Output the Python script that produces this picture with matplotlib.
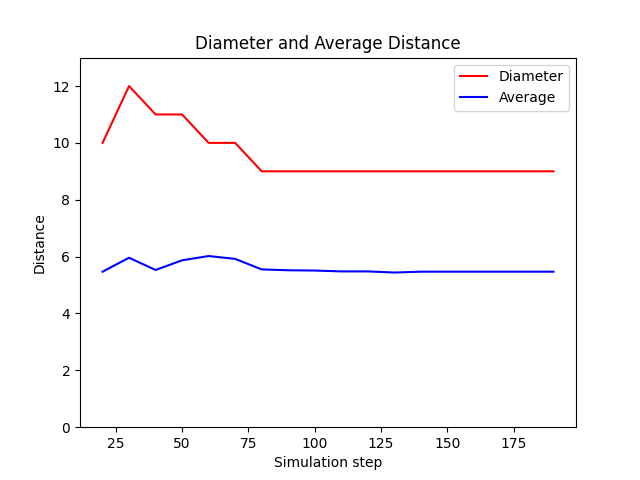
import matplotlib
matplotlib.use('Agg')
import matplotlib.pyplot as plt

# simulationsschritte
steps = [20, 30, 40, 50, 60, 70, 80, 90, 100, 110, 120, 130, 140, 150, 160, 170, 180, 190]

# durchmesser und mittlere distanz
diameter = [10, 12, 11, 11, 10, 10, 9, 9, 9, 9, 9, 9, 9, 9, 9, 9, 9, 9]
average = [5.47, 5.96, 5.53, 5.87, 6.02, 5.92, 5.55, 5.52, 5.51, 5.48, 5.48, 5.44,
           5.47, 5.47, 5.47, 5.47, 5.47, 5.47]

fig, ax = plt.subplots(figsize=(6.4, 4.8), dpi=100)

ax.plot(steps, diameter, color='red', label='Diameter')
ax.plot(steps, average, color='blue', label='Average')

ax.set_ylim(0, 13)
ax.set_xlabel('Simulation step')
ax.set_ylabel('Distance')
ax.set_title('Diameter and Average Distance')
ax.legend(loc='upper right')

fig.savefig('out.png')
